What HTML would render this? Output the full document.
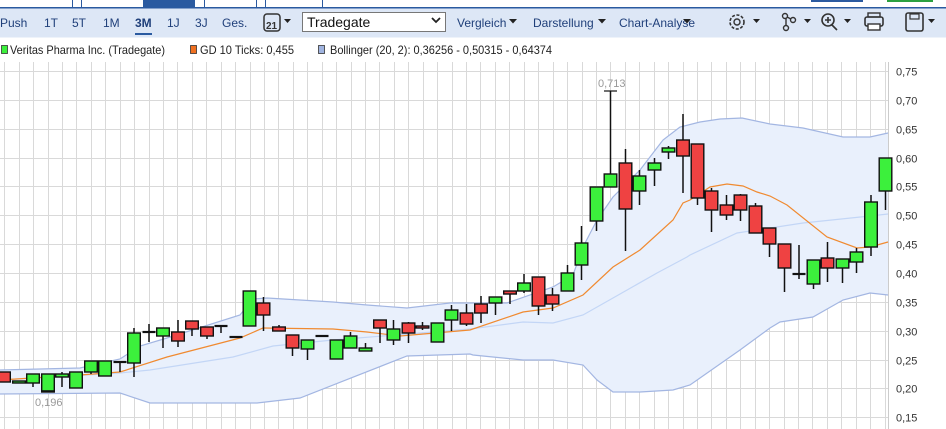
<!DOCTYPE html>
<html><head><meta charset="utf-8"><style>
html,body{margin:0;padding:0;background:#fff;width:946px;height:429px;overflow:hidden}
svg{display:block;font-family:"Liberation Sans",Arial,sans-serif}
</style></head><body>
<svg id="s" width="946" height="429" viewBox="0 0 946 429" xmlns="http://www.w3.org/2000/svg">
<rect x="0" y="0" width="946" height="429" fill="#fff"/>
<!-- top tabs -->
<g stroke="#2a5aa0" stroke-width="1" fill="none">
<line x1="72.5" y1="0" x2="72.5" y2="7"/><line x1="81.5" y1="0" x2="81.5" y2="7"/>
<line x1="204.5" y1="0" x2="204.5" y2="7"/><line x1="256.5" y1="0" x2="256.5" y2="7"/>
<line x1="265.5" y1="0" x2="265.5" y2="7"/><line x1="322.5" y1="0" x2="322.5" y2="7"/>
</g>
<rect x="143" y="0" width="52" height="7" fill="#2a5aa0"/>
<rect x="811" y="0" width="52" height="2" fill="#2a5aa0"/>
<rect x="887" y="0" width="46" height="2" fill="#2aa040"/>
<rect x="0" y="7" width="946" height="1.5" fill="#2a5aa0"/>
<rect x="0" y="8.5" width="946" height="29" fill="#dde7f6"/>
<g font-size="12" fill="#1f3f7a">
<text x="0" y="27">Push</text><text x="44" y="27">1T</text><text x="72" y="27">5T</text>
<text x="103" y="27">1M</text><text x="135" y="27" fill="#1f3f7a" font-weight="bold">3M</text>
<text x="167" y="27">1J</text><text x="195" y="27">3J</text><text x="222" y="27">Ges.</text>
<text x="457" y="27">Vergleich</text><text x="533" y="27">Darstellung</text><text x="619" y="27">Chart-Analyse</text>
</g>
<rect x="135" y="33" width="17" height="2" fill="#2a5aa0"/>
<!-- calendar -->
<rect x="264" y="14" width="16" height="17" rx="3" fill="none" stroke="#333" stroke-width="1.5"/>
<text x="266" y="29" font-size="10" font-weight="bold" fill="#333">21</text>
<g fill="#222">
<path d="M284 19h7l-3.5 4z"/><path d="M509 19h8l-4 4.5z"/><path d="M598 19h8l-4 4.5z"/><path d="M683 19h8l-4 4.5z"/>
<path d="M753 19h7l-3.5 4z"/><path d="M804 19h7l-3.5 4z"/><path d="M844 19h7l-3.5 4z"/><path d="M928 19h7l-3.5 4z"/>
</g>
<rect x="302.5" y="12.5" width="143" height="19" fill="#fff" stroke="#777"/>
<text x="307" y="27" font-size="14" fill="#111">Tradegate</text>
<path d="M432 18l4 4 4-4" fill="none" stroke="#222" stroke-width="1.8"/>
<!-- gear etc -->
<circle cx="737" cy="22" r="7" fill="none" stroke="#333" stroke-width="1.6" stroke-dasharray="3 1.6"/>
<circle cx="737" cy="22" r="3" fill="none" stroke="#333" stroke-width="1.4"/>
<g fill="none" stroke="#333" stroke-width="1.4"><circle cx="785" cy="16" r="2.5"/><circle cx="793" cy="20" r="2.5"/><circle cx="786" cy="28" r="2.5"/><path d="M787 17l4 2M786 18v7"/></g>
<circle cx="828" cy="20" r="6" fill="none" stroke="#333" stroke-width="1.6"/><path d="M832 25l5 5M825 20h6M828 17v6" stroke="#333" stroke-width="1.6"/>
<rect x="865" y="17" width="18" height="9" rx="2" fill="none" stroke="#333" stroke-width="1.6"/><rect x="868" y="13" width="12" height="4" fill="none" stroke="#333" stroke-width="1.4"/><rect x="868" y="24" width="12" height="6" fill="#fff" stroke="#333" stroke-width="1.4"/>
<rect x="906" y="13" width="17" height="18" rx="2" fill="none" stroke="#333" stroke-width="1.6"/><rect x="910" y="14" width="9" height="5" fill="none" stroke="#333" stroke-width="1.2"/>
<!-- legend -->
<rect x="1.5" y="45.5" width="6" height="8" fill="#3cf03c" stroke="#333" stroke-width="0.8"/>
<text x="10" y="54" font-size="12" fill="#222" textLength="155" lengthAdjust="spacingAndGlyphs">Veritas Pharma Inc. (Tradegate)</text>
<rect x="190.5" y="45.5" width="6" height="8" fill="#f07020" stroke="#333" stroke-width="0.8"/>
<text x="200" y="54" font-size="12" fill="#222" textLength="94" lengthAdjust="spacingAndGlyphs">GD 10 Ticks: 0,455</text>
<rect x="318.5" y="45.5" width="6" height="8" fill="#a0b4e0" stroke="#333" stroke-width="0.8"/>
<text x="330" y="54" font-size="12" fill="#222" textLength="222" lengthAdjust="spacingAndGlyphs">Bollinger (20, 2): 0,36256 - 0,50315 - 0,64374</text>
<g id="grid" stroke="#d9d9d9" stroke-width="1"></g>
<polygon id="band" fill="#e9f0fc"/>
<polyline id="up" fill="none" stroke="#a3b6e2" stroke-width="1.2"/>
<polyline id="mid" fill="none" stroke="#c3d6f6" stroke-width="1.2"/>
<polyline id="lo" fill="none" stroke="#a3b6e2" stroke-width="1.2"/>
<polyline id="ma" fill="none" stroke="#f08a30" stroke-width="1.2"/>
<g id="cd"></g>
<g id="ax" font-size="11" fill="#333"></g>
<text x="598" y="87" font-size="11" fill="#999">0,713</text>
<text x="35" y="406" font-size="11" fill="#999">0,196</text>
</svg>
<script>
var NS="http://www.w3.org/2000/svg";
function el(p,t,a){var e=document.createElementNS(NS,t);for(var k in a)e.setAttribute(k,a[k]);p.appendChild(e);return e;}
var g=document.getElementById("grid");
for(var k=0;k<62;k++){var x=Math.round(4.3+14.43*k)+0.5;el(g,"line",{x1:x,y1:62,x2:x,y2:429});}
var ax=document.getElementById("ax");
var labs=["0,75","0,70","0,65","0,60","0,55","0,50","0,45","0,40","0,35","0,30","0,25","0,20","0,15"];
for(var j=0;j<13;j++){var y=Math.round(71+28.85*j)+0.5;el(g,"line",{x1:0,y1:y,x2:888,y2:y});var t=el(ax,"text",{x:896,y:y+4});t.textContent=labs[j];}
el(g,"line",{x1:888.5,y1:62,x2:888.5,y2:429,stroke:"#ccc"});
var up=[[0,370],[80,368],[120,359],[140,346],[167,338],[240,315],[253,299],[267,298],[333,302],[367,305],[407,308],[450,303],[507,303],[553,287],[573,275],[583,247],[597,220],[613,197],[640,170],[663,140],[680,127],[700,122],[720,119],[742,118],[770,124],[803,128],[843,137],[870,137],[888,133]];
var mid=[[0,380],[120,373],[150,370],[233,357],[273,346],[333,340],[470,329],[523,322],[553,323],[583,315],[613,298],[657,273],[690,255],[687,257],[737,233],[803,223],[870,216],[888,214]];
var lo=[[0,394],[120,393],[150,403],[257,403],[300,398],[407,356],[470,354],[473,355],[523,360],[553,360],[583,365],[597,380],[613,392],[640,392],[673,390],[690,385],[740,350],[780,322],[770,328],[813,317],[843,300],[870,293],[888,295]];
lo.sort(function(a,b){return a[0]-b[0]});mid.sort(function(a,b){return a[0]-b[0]});
var ma=[[0,380],[80,375],[120,372],[167,357],[240,338],[263,328],[333,329],[367,332],[400,336],[470,330],[523,312],[553,308],[583,295],[613,267],[640,250],[673,220],[690,200],[683,203],[710,187],[727,184],[743,186],[757,192],[770,196],[787,205],[827,237],[857,248],[870,247],[888,242]];
ma.sort(function(a,b){return a[0]-b[0]});
function pts(a){return a.map(function(p){return p[0]+","+p[1]}).join(" ");}
document.getElementById("up").setAttribute("points",pts(up));
document.getElementById("mid").setAttribute("points",pts(mid));
document.getElementById("lo").setAttribute("points",pts(lo));
document.getElementById("ma").setAttribute("points",pts(ma));
document.getElementById("band").setAttribute("points",pts(up)+" "+pts(lo.slice().reverse()));
var C=[[4,372,382,372,382,"r"],[19,381,383,381,383,"g"],[33,374,383,374,387,"g"],[48,374,392,374,392,"g"],[62,374,377,372,387,"g"],[76,372,388,372,388,"g"],[91,361,372,361,374,"g"],[105,361,376,361,376,"g"],[120,362,362,362,372,"d"],[134,333,363,328,377,"g"],[149,332,332,324,342,"d"],[163,328,336,328,348,"g"],[178,332,341,320,347,"r"],[192,321,329,321,336,"r"],[207,327,336,327,339,"r"],[221,326,326,326,333,"d"],[236,337,337,337,337,"d"],[249.5,291,326,291,326,"g"],[263.5,303,315,297,331,"r"],[279,327,331,325,331,"r"],[292.5,335,348,335,356,"r"],[307.5,340,349,340,360,"g"],[322,336,336,336,336,"d"],[336.5,340,359,340,359,"g"],[350.5,336,348,332,348,"g"],[365.5,348,351,343,351,"g"],[380,320,328,320,343,"r"],[393.5,329,340,320,345,"g"],[408.5,323,333,322,343,"r"],[422.5,326,328,322,330,"r"],[437.5,323,342,323,342,"g"],[451.5,310,320,305,331,"g"],[466.5,313,324,304,326,"r"],[481,304,313,296,323,"r"],[495.5,297,303,297,315,"g"],[510,291,294,291,304,"r"],[524,283,291,274,293,"g"],[538.5,277,306,277,315,"r"],[552.5,295,304,288,311,"r"],[567.5,273,291,265,291,"g"],[581.5,243,265,226,280,"g"],[596.5,187,221,187,231,"g"],[610.5,174,187,91,187,"g"],[625.5,163,209,149,251,"r"],[639.5,176,191,170,205,"g"],[654.5,163,170,158,186,"g"],[668.5,148,152,146,159,"g"],[683,140,156,114,193,"r"],[697.5,144,198,144,205,"r"],[711.5,191,210,188,232,"r"],[726.5,205,215,195,220,"r"],[740.5,195,210,194,221,"r"],[755.5,206,233,203,233,"r"],[769.5,228,244,228,257,"r"],[784.5,244,268,244,292,"r"],[799,274,274,245,279,"d"],[813.5,260,284,260,289,"g"],[827.5,258,268,242,282,"r"],[842.5,259,268,259,283,"g"],[856.5,252,262,248,273,"g"],[871,202,247,195,256,"g"],[885.5,158,191,158,210,"g"]];
var cd=document.getElementById("cd");
C.forEach(function(c){
 var x=c[0];
 if(c[3]<c[1]||c[4]>c[2]) el(cd,"line",{x1:x,y1:c[3],x2:x,y2:c[4],stroke:"#111","stroke-width":1.5});
 if(c[5]=="d"){el(cd,"line",{x1:x-6.5,y1:c[1],x2:x+6.5,y2:c[1],stroke:"#111","stroke-width":2.2});}
 else el(cd,"rect",{x:x-6.3,y:c[1],width:12.6,height:Math.max(c[2]-c[1],2),fill:c[5]=="g"?"#3cf03c":"#ef4242",stroke:"#111","stroke-width":1.4});
});
el(cd,"line",{x1:604,y1:91,x2:617,y2:91,stroke:"#111","stroke-width":1.2});
el(cd,"line",{x1:42,y1:391,x2:55,y2:391,stroke:"#111","stroke-width":1.6});
</script>
</body></html>
